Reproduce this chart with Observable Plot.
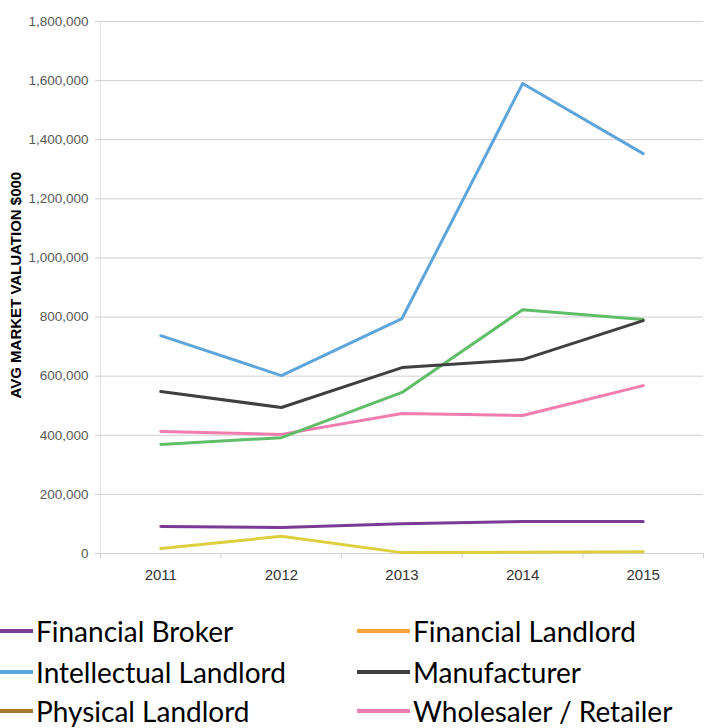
<!DOCTYPE html>
<html><head><meta charset="utf-8">
<script src="https://cdn.jsdelivr.net/npm/d3@7"></script>
<script src="https://cdn.jsdelivr.net/npm/@observablehq/plot@0.6"></script>
<style>
html,body{margin:0;padding:0;background:#fff;}
body{width:705px;height:728px;overflow:hidden;position:relative;}
#chart{position:absolute;left:0;top:0;}
#chart svg{overflow:visible;}
#ylabel{position:absolute;left:15px;top:285px;white-space:nowrap;font:bold 15px "Liberation Sans",Arial,sans-serif;color:#000;transform-origin:0 0;}
.leg{position:absolute;display:flex;align-items:center;font:28px Lato,"Liberation Sans",sans-serif;color:#000;white-space:nowrap;line-height:1;}
.leg .sw{display:inline-block;height:4px;margin-right:3px;}
</style></head>
<body>
<div id="chart"></div>
<div id="ylabel">AVG MARKET VALUATION $000</div>
<div id="legend"></div>
<script>
const years = [2011, 2012, 2013, 2014, 2015];
const yTicks = [0, 200000, 400000, 600000, 800000, 1000000, 1200000, 1400000, 1600000, 1800000];

const financialBroker      = [91000, 88000, 101000, 108000, 108000];
const intellectualLandlord = [737000, 602000, 795000, 1590000, 1353000];
const manufacturer         = [548000, 494000, 629000, 656000, 788000];
const wholesalerRetailer   = [413000, 403000, 474000, 467000, 568000];
const greenSeries          = [369000, 392000, 545000, 825000, 792000];
const yellowSeries         = [17000, 58000, 3000, 4000, 6000];

const legendLabels = ["Financial Broker", "Financial Landlord", "Intellectual Landlord", "Manufacturer", "Physical Landlord", "Wholesaler / Retailer"];
const legendColors = ["#7b3a96", "#faa43a", "#5da5da", "#404040", "#a57a2c", "#f17cb0"];

const seriesNames  = ["Financial Broker", "Intellectual Landlord", "Wholesaler / Retailer", "Green series", "Manufacturer", "Yellow series"];
const seriesValues = [financialBroker, intellectualLandlord, wholesalerRetailer, greenSeries, manufacturer, yellowSeries];
const seriesColors = ["#7b3a96", "#5da5da", "#f17cb0", "#60bd68", "#404040", "#decf3f"];

const rows = [];
seriesNames.forEach((name, si) => years.forEach((yr, i) => rows.push({series: name, year: yr, value: seriesValues[si][i]})));
const bounds = [years[0] - 0.5, ...years.map(y => y + 0.5)];

const chart = Plot.plot({
  width: 705, height: 600,
  marginLeft: 100, marginRight: 2, marginTop: 21, marginBottom: 47,
  style: {fontFamily: '"Liberation Sans", Arial, sans-serif', background: "transparent"},
  x: {domain: [bounds[0], bounds[bounds.length - 1]]},
  y: {domain: [0, 1800000]},
  color: {domain: seriesNames, range: seriesColors},
  marks: [
    Plot.gridY(yTicks, {stroke: "#cfcfcf", strokeOpacity: 1}),
    Plot.ruleX([bounds[0]], {stroke: "#e2e2e2"}),
    Plot.ruleY([0], {stroke: "#cfcfcf"}),
    Plot.ruleX(bounds, {y1: 0, y2: -18000, stroke: "#cfcfcf"}),
    Plot.axisY({ticks: yTicks, tickFormat: d3.format(","), tickSize: 5, tickPadding: 7, stroke: "#cfcfcf", color: "#595959", label: null, strokeOpacity: 1, fontSize: 13.5}),
    Plot.axisX({ticks: years, tickFormat: d => String(d), tickSize: 0, tickPadding: 16, color: "#333", label: null, fontSize: 15}),
    Plot.line(rows, {x: "year", y: "value", z: "series", stroke: "series", strokeWidth: 3, strokeLinejoin: "round"})
  ]
});
document.getElementById("chart").appendChild(chart);

const yl = document.getElementById("ylabel");
const w = yl.offsetWidth, h = yl.offsetHeight;
yl.style.transform = `rotate(-90deg) translate(${-w/2}px, ${-h/2}px)`;

const legend = document.getElementById("legend");
const pos = [[0, 631, 33], [357, 631, 53], [0, 672, 33], [357, 672, 53], [0, 711, 33], [357, 711, 53]];
legendLabels.forEach((lab, i) => {
  const d = document.createElement("div");
  d.className = "leg";
  d.style.left = pos[i][0] + "px";
  d.style.top = (pos[i][1] - 15) + "px";
  d.style.height = "30px";
  d.innerHTML = `<span class="sw" style="width:${pos[i][2]}px;background:${legendColors[i]}"></span><span>${lab}</span>`;
  legend.appendChild(d);
});
</script>
</body></html>
